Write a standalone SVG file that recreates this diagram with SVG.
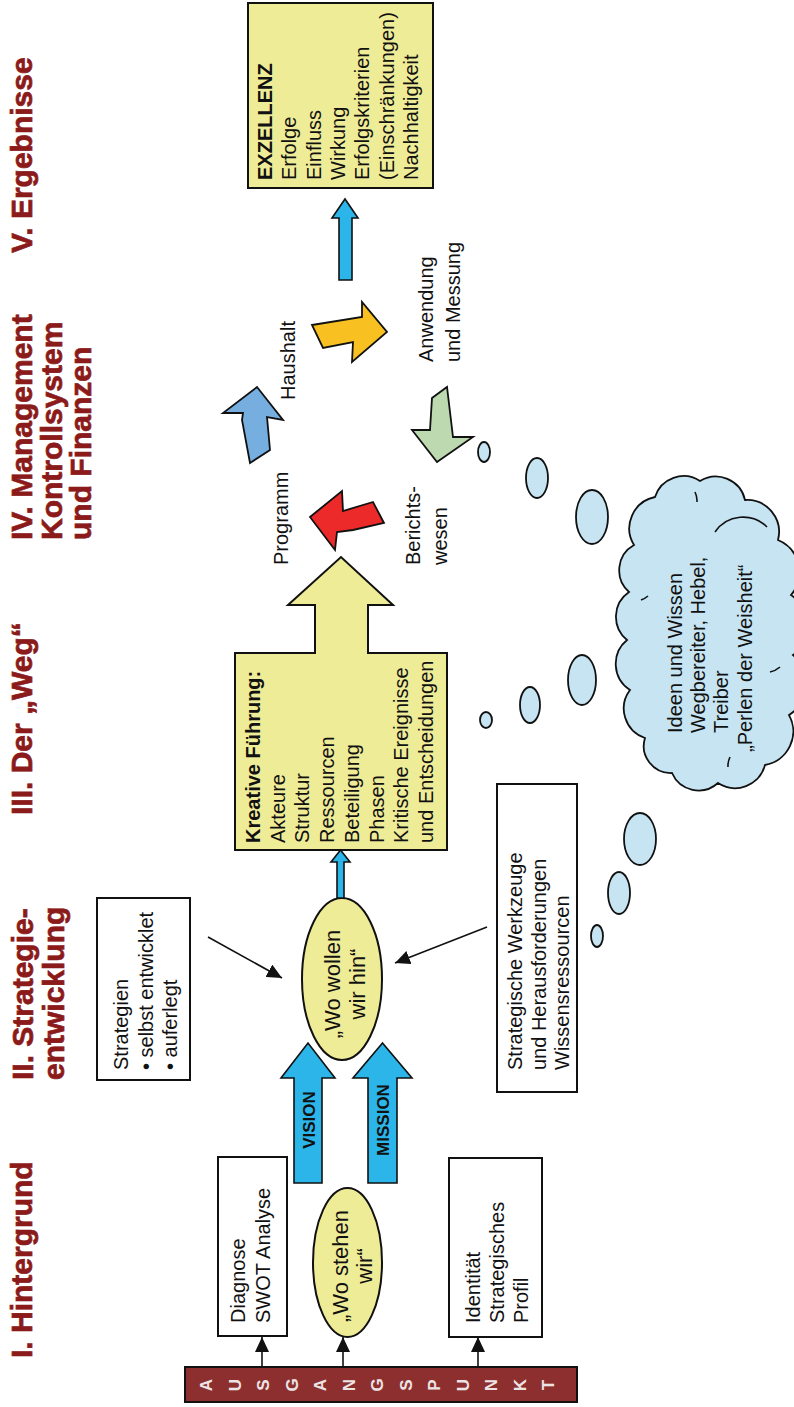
<svg xmlns="http://www.w3.org/2000/svg" width="794" height="1407" viewBox="0 0 794 1407">
  <style>
    text { font-family: "Liberation Sans", Arial, sans-serif; fill: #111; }
    .title { font-size: 30px; font-weight: bold; fill: #8b1a1a; stroke: #8b1a1a; stroke-width: 0.7; }
    .body { font-size: 20px; }
    .oval { font-size: 22px; }
    .bold { font-weight: bold; }
    .arrowlbl { font-size: 17px; font-weight: bold; }
    .bar { font-size: 17px; font-weight: bold; fill: #ece4e4; }
    .box { fill: #ffffff; stroke: #111; stroke-width: 2; }
    .yellow { fill: #efec97; stroke: #111; stroke-width: 2; }
    .blue { fill: #2bb5e9; stroke: #111; stroke-width: 1.6; }
    .bubble { fill: #c6e4f2; stroke: #111; stroke-width: 1.8; }
    .cyc { stroke: #111; stroke-width: 1.8; stroke-linejoin: miter; }
    .conn { stroke: #111; stroke-width: 1.6; fill: none; }
  </style>
  <defs>
    <marker id="tri" viewBox="0 0 15 14" refX="15" refY="7" markerWidth="15" markerHeight="14" markerUnits="userSpaceOnUse" orient="auto">
      <path d="M0,0 L15,7 L0,14 Z" fill="#111"/>
    </marker>
  </defs>

  <rect width="794" height="1407" fill="#ffffff"/>

  <!-- column headings -->
  <g id="titles">
    <text class="title" transform="translate(32,1358) rotate(-90)">I. Hintergrund</text>
    <text class="title" transform="translate(33,1080) rotate(-90)"><tspan x="0" y="0">II. Strategie-</tspan><tspan x="0" y="31">entwicklung</tspan></text>
    <text class="title" transform="translate(32,815) rotate(-90)">III. Der „Weg“</text>
    <text class="title" transform="translate(32,540) rotate(-90)"><tspan x="0" y="0">IV. Management</tspan><tspan x="0" y="30">Kontrollsystem</tspan><tspan x="0" y="59">und Finanzen</tspan></text>
    <text class="title" transform="translate(32,253) rotate(-90)">V. Ergebnisse</text>
  </g>

  <!-- starting point bar -->
  <g id="ausgangspunkt">
    <rect x="185" y="1367" width="392" height="35" fill="#8e2f2f" stroke="#111" stroke-width="2"/>
    <g text-anchor="middle">
      <text class="bar" transform="translate(212,1385) rotate(-90)">A</text>
      <text class="bar" transform="translate(240.5,1385) rotate(-90)">U</text>
      <text class="bar" transform="translate(269,1385) rotate(-90)">S</text>
      <text class="bar" transform="translate(297.5,1385) rotate(-90)">G</text>
      <text class="bar" transform="translate(326,1385) rotate(-90)">A</text>
      <text class="bar" transform="translate(354.5,1385) rotate(-90)">N</text>
      <text class="bar" transform="translate(383,1385) rotate(-90)">G</text>
      <text class="bar" transform="translate(411.5,1385) rotate(-90)">S</text>
      <text class="bar" transform="translate(440,1385) rotate(-90)">P</text>
      <text class="bar" transform="translate(468.5,1385) rotate(-90)">U</text>
      <text class="bar" transform="translate(497,1385) rotate(-90)">N</text>
      <text class="bar" transform="translate(525.5,1385) rotate(-90)">K</text>
      <text class="bar" transform="translate(554,1385) rotate(-90)">T</text>
    </g>
  </g>

  <g id="diagnose">
    <rect class="box" x="218" y="1157" width="69" height="179"/>
    <text class="body" transform="translate(245,1323) rotate(-90)"><tspan x="0" y="0">Diagnose</tspan><tspan x="0" y="25">SWOT Analyse</tspan></text>
  </g>

  <g id="wo-stehen">
    <ellipse class="yellow" cx="347.5" cy="1262.5" rx="34.5" ry="74.5" stroke-width="1.6"/>
    <text class="oval" text-anchor="middle" transform="translate(348,1266) rotate(-90)"><tspan x="0" y="0">„Wo stehen</tspan><tspan x="0" y="24">wir“</tspan></text>
  </g>

  <g id="identitaet">
    <rect class="box" x="449" y="1158" width="93" height="179"/>
    <text class="body" transform="translate(480,1323) rotate(-90)"><tspan x="0" y="0">Identität</tspan><tspan x="0" y="24">Strategisches</tspan><tspan x="0" y="48">Profil</tspan></text>
  </g>

  <g id="vision">
    <polygon class="blue" points="294,1183 322,1183 322,1078 335,1078 308,1043 281,1078 294,1078"/>
    <text class="arrowlbl" text-anchor="middle" transform="translate(315,1120) rotate(-90)">VISION</text>
  </g>

  <g id="mission">
    <polygon class="blue" points="368,1183 397,1183 397,1078 412,1078 382.5,1043 353,1078 368,1078"/>
    <text class="arrowlbl" text-anchor="middle" transform="translate(389,1120) rotate(-90)">MISSION</text>
  </g>

  <g id="strategien">
    <rect class="box" x="97" y="898" width="93" height="182"/>
    <text class="body" transform="translate(128,1070) rotate(-90)"><tspan x="0" y="0">Strategien</tspan><tspan x="0" y="25">• selbst entwicklet</tspan><tspan x="0" y="49">• auferlegt</tspan></text>
  </g>

  <g id="wo-wollen">
    <ellipse class="yellow" cx="342" cy="979" rx="40" ry="81" stroke-width="1.6"/>
    <text class="oval" text-anchor="middle" transform="translate(340,984) rotate(-90)"><tspan x="0" y="0">„Wo wollen</tspan><tspan x="0" y="25">wir hin“</tspan></text>
  </g>

  <g id="werkzeuge">
    <rect class="box" x="497" y="784" width="80" height="308"/>
    <text class="body" transform="translate(522,1070) rotate(-90)"><tspan x="0" y="0">Strategische Werkzeuge</tspan><tspan x="0" y="24">und Herausforderungen</tspan><tspan x="0" y="47">Wissensressourcen</tspan></text>
  </g>

  <g id="kreative-fuehrung">
    <path class="yellow" d="M235,850 L447,850 L447,653 L368,653 L368,605 L393,605 L341,557 L288,605 L315,605 L315,653 L235,653 Z"/>
    <text class="body" transform="translate(260,843) rotate(-90)"><tspan x="0" y="0" class="bold">Kreative Führung:</tspan><tspan x="0" y="24.7">Akteure</tspan><tspan x="0" y="49.4">Struktur</tspan><tspan x="0" y="74.1">Ressourcen</tspan><tspan x="0" y="98.8">Beteiligung</tspan><tspan x="0" y="123.5">Phasen</tspan><tspan x="0" y="148.2">Kritische Ereignisse</tspan><tspan x="0" y="172.9">und Entscheidungen</tspan></text>
  </g>

  <!-- management cycle -->
  <g id="programm">
    <polygon class="cyc" fill="#ec2a2a" points="310,517 342,491 343,511 373,502 384,523 353,530 337,532 335,550"/>
    <text class="body" transform="translate(288,565) rotate(-90)">Programm</text>
  </g>
  <g id="haushalt">
    <polygon class="cyc" fill="#76aee0" points="257,387 283,420 267,417 270,450 250,463 242,420 243,413 223,413"/>
    <text class="body" transform="translate(295,400) rotate(-90)">Haushalt</text>
  </g>
  <g id="anwendung">
    <polygon class="cyc" fill="#f8c020" points="312,325 362,317 362,302 387,332 352,362 353,342 323,348"/>
    <text class="body" transform="translate(433,362) rotate(-90)"><tspan x="0" y="0">Anwendung</tspan><tspan x="0" y="27">und Messung</tspan></text>
  </g>
  <g id="berichtswesen">
    <polygon class="cyc" fill="#bcd9b0" points="432,398 447,387 453,437 473,437 437,462 412,430 430,430"/>
    <text class="body" transform="translate(420,565) rotate(-90)"><tspan x="0" y="0">Berichts-</tspan><tspan x="0" y="27">wesen</tspan></text>
  </g>

  <g id="ergebnis-pfeil">
    <polygon class="blue" points="339,280 352,280 352,218 358,218 345,199 332,218 339,218"/>
  </g>

  <g id="exzellenz">
    <rect class="yellow" x="248" y="3" width="185" height="185"/>
    <text class="body" transform="translate(272,180) rotate(-90)"><tspan x="0" y="0" class="bold">EXZELLENZ</tspan><tspan x="0" y="24.3">Erfolge</tspan><tspan x="0" y="48.6">Einfluss</tspan><tspan x="0" y="72.9">Wirkung</tspan><tspan x="0" y="97.2">Erfolgskriterien</tspan><tspan x="0" y="121.5">(Einschränkungen)</tspan><tspan x="0" y="145.8">Nachhaltigkeit</tspan></text>
  </g>

  <!-- thought bubbles leading to the cloud -->
  <g id="blasen">
    <ellipse class="bubble" cx="640" cy="839" rx="16" ry="26"/>
    <ellipse class="bubble" cx="619" cy="893" rx="11" ry="21"/>
    <ellipse class="bubble" cx="597" cy="936" rx="6" ry="11"/>
    <ellipse class="bubble" cx="484" cy="452" rx="6" ry="10"/>
    <ellipse class="bubble" cx="537" cy="478" rx="11" ry="20"/>
    <ellipse class="bubble" cx="592" cy="517" rx="16" ry="27"/>
    <ellipse class="bubble" cx="582" cy="680" rx="14" ry="25"/>
    <ellipse class="bubble" cx="530" cy="705" rx="10" ry="18"/>
    <ellipse class="bubble" cx="486" cy="720" rx="6" ry="8"/>
  </g>

  <g id="ideen-wolke">
    <path class="bubble" d="M634,545 A32,32 0 0 1 655,497 A30,30 0 0 1 700,481 A30,30 0 0 1 745,500 A32,32 0 0 1 778,540 A35,35 0 0 1 791,595 A37,37 0 0 1 793,655 A37,37 0 0 1 789,715 A34,34 0 0 1 765,765 A31,31 0 0 1 718,783 A29,29 0 0 1 672,773 A27,27 0 0 1 645,738 A31,31 0 0 1 630,690 A31,31 0 0 1 627,640 A30,30 0 0 1 629,592 A29,29 0 0 1 634,545 Z"/>
    <path d="M715,532 A34,34 0 0 1 767,527 M695,492 A20,20 0 0 1 697,502 M780,667 A22,22 0 0 1 770,672 M728,767 A20,20 0 0 1 730,757 M641,600 A22,22 0 0 0 648,596" fill="none" stroke="#111" stroke-width="1.6"/>
    <text class="body" transform="translate(682,733) rotate(-90)"><tspan x="0" y="0">Ideen und Wissen</tspan><tspan x="0" y="23">Wegbereiter, Hebel,</tspan><tspan x="0" y="46">Treiber</tspan><tspan x="-19" y="70">„Perlen der Weisheit“</tspan></text>
  </g>

  <!-- connectors -->
  <g id="connectors">
    <line class="conn" x1="262" y1="1367" x2="262" y2="1337" marker-end="url(#tri)"/>
    <line class="conn" x1="343" y1="1367" x2="343" y2="1337" marker-end="url(#tri)"/>
    <line class="conn" x1="478" y1="1367" x2="478" y2="1337" marker-end="url(#tri)"/>
    <line class="conn" x1="208" y1="937" x2="282" y2="978" marker-end="url(#tri)"/>
    <line class="conn" x1="487" y1="927" x2="395" y2="963" marker-end="url(#tri)"/>
    <polygon class="blue" points="337,898 344,898 344,862 350,862 340.5,850 331,862 337,862"/>
  </g>
</svg>
